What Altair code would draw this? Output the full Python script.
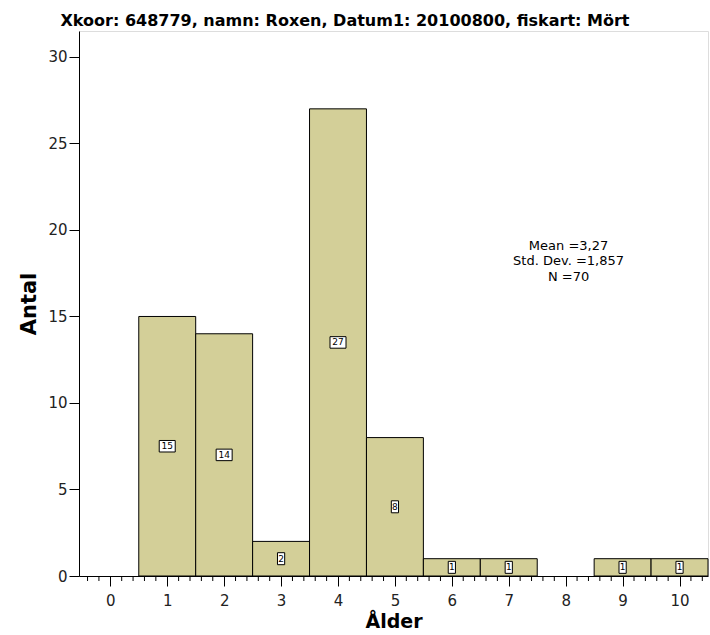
import altair as alt
import pandas as pd
import numpy as np

# Age-class histogram for roach (Mört) in Roxen
ages = [0, 1, 2, 3, 4, 5, 6, 7, 8, 9, 10]
counts = [0, 15, 14, 2, 27, 8, 1, 1, 0, 1, 1]
stat_lines = ["Mean =3,27", "Std. Dev. =1,857", "N =70"]
title_text = "Xkoor: 648779, namn: Roxen, Datum1: 20100800, fiskart: Mört"

FONT = "DejaVu Sans"
BAR_FILL = "#d3cf98"
W, H = 629, 545

df = pd.DataFrame({"age": ages, "count": counts})
df = df[df["count"] > 0].copy()
df["lo"] = df["age"] - 0.5
df["hi"] = df["age"] + 0.5
df["mid"] = df["count"] / 2
df["label"] = df["count"].astype(str)

x_scale = alt.Scale(domain=[-0.55, 10.5], nice=False, zero=False)
y_scale = alt.Scale(domain=[0, 31.5], nice=False)

major_x = list(range(0, 11))
minor_x = [round(v, 1) for v in np.arange(-0.4, 10.5, 0.2)
           if abs(v - round(v)) > 1e-6]

base = alt.Chart(df)

bars = base.mark_rect(fill=BAR_FILL, stroke="black", strokeWidth=1).encode(
    x=alt.X("lo:Q", scale=x_scale,
            axis=alt.Axis(values=major_x, format="d", title="Ålder",
                          tickSize=10, labelFontSize=15, labelPadding=7,
                          titleFontSize=19, titleFontWeight="bold",
                          titlePadding=4, grid=False,
                          domainColor="black", tickColor="black",
                          labelColor="#222", titleColor="black",
                          labelFont=FONT, titleFont=FONT)),
    x2="hi:Q",
    y=alt.Y("count:Q", scale=y_scale,
            axis=alt.Axis(values=[0, 5, 10, 15, 20, 25, 30], format="d",
                          title="Antal", tickSize=10, labelFontSize=15,
                          labelPadding=2, titleFontSize=21,
                          titleFontWeight="bold", titlePadding=8, grid=False,
                          domainColor="black", tickColor="black",
                          labelColor="#222", titleColor="black",
                          labelFont=FONT, titleFont=FONT)),
    y2=alt.Y2(datum=0),
)

# minor x ticks every 0.2 units, drawn just below the axis line
minor = alt.Chart(pd.DataFrame({"v": minor_x})).mark_rule(
    color="black", strokeWidth=1, clip=False
).encode(
    x=alt.X("v:Q", scale=x_scale),
    y=alt.value(H),
    y2=alt.value(H + 5),
)

wide_box = "M-1,-0.72L1,-0.72L1,0.72L-1,0.72Z"
tall_box = "M-0.6,-1L0.6,-1L0.6,1L-0.6,1Z"

boxes = base.mark_point(filled=True, fill="white", stroke="black",
                        strokeWidth=1, opacity=1).encode(
    x=alt.X("age:Q", scale=x_scale),
    y=alt.Y("mid:Q", scale=y_scale),
    shape=alt.condition("datum.count >= 10", alt.value(wide_box),
                        alt.value(tall_box)),
    size=alt.condition("datum.count >= 10", alt.value(256), alt.value(144)),
)

labels = base.mark_text(font=FONT, fontSize=9, color="black",
                        baseline="middle", align="center").encode(
    x=alt.X("age:Q", scale=x_scale),
    y=alt.Y("mid:Q", scale=y_scale),
    text="label:N",
)

stats = alt.Chart(pd.DataFrame({"t": ["\n".join(stat_lines)]})).mark_text(
    font=FONT, fontSize=13, color="black", align="center", baseline="middle",
    lineBreak="\n", lineHeight=15.5,
).encode(
    x=alt.X(datum=8.05, scale=x_scale),
    y=alt.Y(datum=19.1, scale=y_scale),
    text="t:N",
)

title = alt.Chart(pd.DataFrame({"t": [title_text]})).mark_text(
    font=FONT, fontSize=16, fontWeight="bold", color="black",
    align="center", baseline="alphabetic", clip=False,
).encode(
    x=alt.value(266),
    y=alt.value(-5),
    text="t:N",
)

chart = alt.layer(bars, minor, boxes, labels, stats, title).properties(
    width=W,
    height=H,
    autosize=alt.AutoSizeParams(type="none"),
    padding={"left": 79, "top": 31, "right": 2, "bottom": 59},
).configure_view(stroke="#444", strokeWidth=1).configure(background="white")

chart.save("out.html", embed_options={"renderer": "svg", "actions": False})
